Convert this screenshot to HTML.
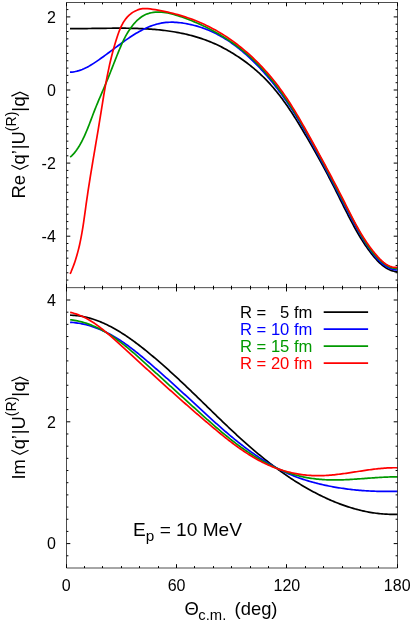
<!DOCTYPE html>
<html><head><meta charset="utf-8"><title>plot</title>
<style>html,body{margin:0;padding:0;background:#fff;}body{width:411px;height:622px;overflow:hidden;position:relative;font-family:"Liberation Sans",sans-serif;}</style></head>
<body>
<svg width="411" height="622" viewBox="0 0 411 622" style="position:absolute;left:0;top:0">
<rect x="0" y="0" width="411" height="622" fill="#fff"/>
<path d="M70.02,28.59 L71.70,28.60 L73.39,28.61 L75.08,28.61 L76.78,28.61 L78.47,28.60 L80.18,28.60 L81.88,28.58 L83.59,28.57 L85.30,28.55 L87.01,28.53 L88.72,28.51 L90.44,28.49 L92.16,28.47 L93.88,28.44 L95.61,28.42 L97.33,28.39 L99.06,28.37 L100.79,28.35 L102.52,28.32 L104.25,28.30 L105.99,28.28 L107.72,28.26 L109.46,28.24 L111.20,28.23 L112.93,28.21 L114.67,28.20 L116.41,28.20 L118.15,28.19 L119.89,28.19 L121.64,28.20 L123.38,28.21 L125.12,28.22 L126.86,28.24 L128.60,28.26 L130.34,28.29 L132.08,28.33 L133.82,28.37 L135.56,28.41 L137.30,28.47 L139.04,28.53 L140.77,28.60 L142.51,28.68 L144.24,28.76 L145.98,28.86 L147.71,28.96 L149.44,29.07 L151.17,29.19 L152.90,29.32 L154.62,29.46 L156.35,29.61 L158.07,29.77 L159.79,29.94 L161.50,30.13 L163.22,30.32 L164.93,30.53 L166.64,30.74 L168.34,30.97 L170.05,31.22 L171.75,31.47 L173.45,31.74 L175.14,32.02 L176.83,32.32 L178.52,32.63 L180.20,32.96 L181.88,33.30 L183.56,33.65 L185.23,34.02 L186.90,34.41 L188.56,34.81 L190.22,35.23 L191.88,35.67 L193.53,36.12 L195.17,36.59 L196.81,37.07 L198.45,37.58 L200.08,38.10 L201.71,38.64 L203.33,39.20 L204.94,39.77 L206.55,40.37 L208.15,40.98 L209.75,41.61 L211.33,42.26 L212.92,42.93 L214.49,43.62 L216.06,44.33 L217.62,45.06 L219.18,45.81 L220.72,46.58 L222.26,47.37 L223.79,48.17 L225.32,48.99 L226.83,49.83 L228.34,50.68 L229.84,51.55 L231.33,52.43 L232.81,53.32 L234.28,54.23 L235.74,55.16 L237.19,56.10 L238.64,57.05 L240.07,58.02 L241.49,59.00 L242.91,59.99 L244.31,61.00 L245.70,62.02 L247.09,63.05 L248.46,64.10 L249.82,65.16 L251.17,66.24 L252.51,67.33 L253.83,68.43 L255.15,69.54 L256.45,70.67 L257.74,71.81 L259.02,72.97 L260.29,74.13 L261.55,75.31 L262.79,76.51 L264.02,77.71 L265.23,78.93 L266.44,80.16 L267.63,81.41 L268.80,82.66 L269.97,83.93 L271.12,85.21 L272.25,86.50 L273.38,87.80 L274.49,89.12 L275.59,90.44 L276.68,91.78 L277.76,93.12 L278.83,94.48 L279.89,95.84 L280.93,97.21 L281.97,98.59 L283.00,99.98 L284.01,101.38 L285.02,102.78 L286.02,104.19 L287.01,105.61 L287.99,107.04 L288.97,108.47 L289.93,109.91 L290.89,111.35 L291.84,112.80 L292.79,114.25 L293.72,115.71 L294.65,117.18 L295.58,118.64 L296.50,120.11 L297.41,121.59 L298.32,123.06 L299.22,124.54 L300.12,126.02 L301.02,127.51 L301.91,128.99 L302.79,130.48 L303.67,131.97 L304.55,133.46 L305.43,134.95 L306.30,136.44 L307.17,137.93 L308.04,139.42 L308.90,140.91 L309.77,142.40 L310.62,143.89 L311.48,145.38 L312.33,146.88 L313.18,148.37 L314.03,149.87 L314.88,151.36 L315.72,152.86 L316.56,154.36 L317.40,155.86 L318.23,157.35 L319.06,158.86 L319.89,160.36 L320.71,161.86 L321.54,163.37 L322.36,164.87 L323.17,166.38 L323.99,167.89 L324.80,169.40 L325.61,170.92 L326.42,172.43 L327.22,173.95 L328.02,175.47 L328.82,176.99 L329.62,178.51 L330.41,180.04 L331.20,181.56 L331.99,183.09 L332.77,184.62 L333.56,186.16 L334.33,187.69 L335.11,189.23 L335.89,190.77 L336.66,192.32 L337.43,193.86 L338.20,195.41 L338.97,196.96 L339.74,198.51 L340.50,200.06 L341.27,201.61 L342.04,203.16 L342.81,204.71 L343.58,206.26 L344.35,207.81 L345.13,209.36 L345.91,210.91 L346.69,212.45 L347.47,213.99 L348.26,215.54 L349.05,217.07 L349.85,218.61 L350.65,220.14 L351.45,221.67 L352.27,223.20 L353.08,224.72 L353.91,226.24 L354.74,227.75 L355.58,229.26 L356.43,230.76 L357.28,232.26 L358.14,233.75 L359.01,235.24 L359.90,236.72 L360.79,238.19 L361.69,239.66 L362.61,241.12 L363.55,242.57 L364.49,244.02 L365.45,245.45 L366.43,246.88 L367.43,248.30 L368.45,249.71 L369.48,251.11 L370.53,252.50 L371.61,253.89 L372.71,255.26 L373.83,256.62 L374.97,257.96 L376.14,259.28 L377.34,260.57 L378.56,261.82 L379.82,263.03 L381.10,264.19 L382.41,265.29 L383.76,266.33 L385.13,267.29 L386.54,268.19 L387.99,269.00 L389.47,269.72 L390.99,270.35 L392.55,270.88 L394.14,271.29 L395.78,271.60 L397.46,271.78" fill="none" stroke="#000000" stroke-width="1.7" stroke-linejoin="round"/>
<path d="M70.01,72.20 L71.83,72.07 L73.63,71.84 L75.39,71.52 L77.13,71.12 L78.84,70.64 L80.52,70.08 L82.18,69.46 L83.82,68.77 L85.43,68.02 L87.03,67.22 L88.60,66.38 L90.16,65.49 L91.70,64.57 L93.22,63.61 L94.73,62.64 L96.23,61.64 L97.72,60.62 L99.19,59.60 L100.66,58.57 L102.12,57.53 L103.57,56.48 L105.01,55.43 L106.45,54.37 L107.89,53.30 L109.33,52.24 L110.76,51.16 L112.20,50.09 L113.64,49.01 L115.08,47.94 L116.53,46.86 L117.98,45.78 L119.44,44.71 L120.90,43.63 L122.38,42.56 L123.86,41.49 L125.36,40.43 L126.87,39.38 L128.39,38.33 L129.91,37.30 L131.45,36.28 L133.00,35.28 L134.56,34.30 L136.13,33.34 L137.71,32.41 L139.30,31.50 L140.90,30.63 L142.51,29.78 L144.13,28.97 L145.76,28.20 L147.40,27.46 L149.05,26.76 L150.71,26.11 L152.38,25.51 L154.06,24.95 L155.74,24.44 L157.44,23.98 L159.14,23.56 L160.86,23.21 L162.58,22.90 L164.31,22.65 L166.05,22.46 L167.80,22.32 L169.56,22.23 L171.32,22.20 L173.09,22.22 L174.86,22.28 L176.63,22.39 L178.41,22.54 L180.19,22.73 L181.97,22.96 L183.75,23.22 L185.53,23.52 L187.31,23.85 L189.08,24.22 L190.85,24.61 L192.62,25.02 L194.38,25.47 L196.14,25.94 L197.88,26.44 L199.62,26.97 L201.35,27.53 L203.07,28.11 L204.78,28.73 L206.47,29.37 L208.15,30.04 L209.82,30.74 L211.48,31.47 L213.12,32.22 L214.75,33.01 L216.36,33.81 L217.96,34.65 L219.55,35.51 L221.12,36.39 L222.68,37.30 L224.23,38.23 L225.77,39.18 L227.29,40.16 L228.80,41.15 L230.29,42.17 L231.78,43.20 L233.25,44.25 L234.70,45.33 L236.15,46.41 L237.58,47.52 L239.00,48.64 L240.41,49.78 L241.80,50.93 L243.19,52.10 L244.56,53.27 L245.92,54.47 L247.27,55.67 L248.60,56.88 L249.93,58.11 L251.24,59.34 L252.54,60.59 L253.83,61.85 L255.11,63.11 L256.38,64.38 L257.63,65.67 L258.88,66.96 L260.11,68.26 L261.34,69.57 L262.55,70.89 L263.75,72.22 L264.95,73.56 L266.13,74.90 L267.30,76.25 L268.46,77.61 L269.62,78.98 L270.76,80.36 L271.90,81.75 L273.02,83.14 L274.14,84.54 L275.24,85.94 L276.34,87.36 L277.43,88.78 L278.51,90.21 L279.58,91.64 L280.64,93.08 L281.70,94.53 L282.74,95.99 L283.78,97.45 L284.81,98.91 L285.83,100.39 L286.85,101.86 L287.85,103.35 L288.85,104.84 L289.84,106.33 L290.83,107.83 L291.81,109.34 L292.78,110.85 L293.74,112.36 L294.70,113.88 L295.65,115.41 L296.59,116.94 L297.53,118.47 L298.47,120.01 L299.40,121.55 L300.32,123.10 L301.24,124.65 L302.15,126.20 L303.06,127.76 L303.96,129.32 L304.86,130.88 L305.76,132.45 L306.65,134.01 L307.54,135.59 L308.42,137.16 L309.31,138.74 L310.19,140.32 L311.06,141.90 L311.94,143.49 L312.81,145.07 L313.68,146.66 L314.55,148.25 L315.42,149.84 L316.29,151.44 L317.15,153.03 L318.02,154.63 L318.88,156.23 L319.74,157.82 L320.60,159.42 L321.46,161.02 L322.32,162.62 L323.17,164.22 L324.02,165.83 L324.87,167.43 L325.72,169.03 L326.57,170.63 L327.41,172.23 L328.26,173.83 L329.10,175.43 L329.93,177.03 L330.77,178.63 L331.60,180.23 L332.42,181.82 L333.25,183.42 L334.07,185.01 L334.89,186.61 L335.71,188.20 L336.53,189.79 L337.34,191.38 L338.15,192.97 L338.97,194.56 L339.78,196.15 L340.59,197.74 L341.40,199.32 L342.22,200.91 L343.03,202.49 L343.84,204.07 L344.66,205.66 L345.48,207.24 L346.30,208.82 L347.12,210.40 L347.94,211.98 L348.77,213.56 L349.59,215.14 L350.43,216.71 L351.26,218.29 L352.10,219.86 L352.95,221.44 L353.80,223.01 L354.65,224.59 L355.51,226.16 L356.37,227.73 L357.24,229.31 L358.12,230.88 L359.01,232.45 L359.90,234.01 L360.81,235.57 L361.73,237.13 L362.66,238.68 L363.60,240.23 L364.57,241.77 L365.55,243.31 L366.54,244.84 L367.56,246.36 L368.59,247.87 L369.65,249.37 L370.73,250.86 L371.83,252.34 L372.96,253.81 L374.12,255.26 L375.30,256.68 L376.52,258.08 L377.76,259.43 L379.04,260.74 L380.35,261.99 L381.70,263.18 L383.08,264.30 L384.51,265.35 L385.97,266.32 L387.48,267.19 L389.03,267.97 L390.62,268.64 L392.26,269.20 L393.95,269.62 L395.69,269.90 L397.48,270.02" fill="none" stroke="#0000ff" stroke-width="1.7" stroke-linejoin="round"/>
<path d="M70.13,157.11 L71.63,155.81 L73.06,154.39 L74.42,152.87 L75.72,151.25 L76.95,149.56 L78.13,147.81 L79.25,146.00 L80.32,144.14 L81.35,142.26 L82.33,140.35 L83.27,138.44 L84.17,136.53 L85.04,134.61 L85.89,132.68 L86.70,130.76 L87.49,128.83 L88.27,126.89 L89.03,124.96 L89.77,123.02 L90.51,121.08 L91.24,119.14 L91.98,117.19 L92.71,115.25 L93.45,113.31 L94.20,111.36 L94.96,109.42 L95.73,107.47 L96.52,105.52 L97.32,103.58 L98.13,101.63 L98.94,99.69 L99.77,97.75 L100.60,95.80 L101.43,93.86 L102.26,91.91 L103.09,89.97 L103.92,88.03 L104.75,86.08 L105.57,84.14 L106.38,82.20 L107.19,80.26 L107.99,78.31 L108.77,76.37 L109.55,74.43 L110.32,72.49 L111.09,70.55 L111.85,68.61 L112.61,66.67 L113.37,64.74 L114.13,62.80 L114.89,60.86 L115.65,58.93 L116.42,56.99 L117.19,55.06 L117.97,53.12 L118.75,51.19 L119.55,49.26 L120.36,47.33 L121.19,45.41 L122.04,43.49 L122.91,41.58 L123.82,39.68 L124.76,37.80 L125.75,35.93 L126.77,34.08 L127.85,32.26 L128.99,30.45 L130.18,28.67 L131.44,26.92 L132.76,25.22 L134.14,23.56 L135.59,21.98 L137.10,20.47 L138.67,19.05 L140.30,17.74 L142.00,16.55 L143.75,15.49 L145.57,14.58 L147.45,13.82 L149.37,13.20 L151.34,12.73 L153.35,12.38 L155.38,12.16 L157.43,12.05 L159.49,12.06 L161.56,12.16 L163.62,12.36 L165.68,12.64 L167.73,13.00 L169.77,13.43 L171.81,13.92 L173.85,14.47 L175.87,15.07 L177.90,15.70 L179.91,16.37 L181.92,17.06 L183.92,17.77 L185.91,18.50 L187.89,19.25 L189.87,20.02 L191.83,20.81 L193.79,21.61 L195.74,22.44 L197.68,23.28 L199.62,24.14 L201.54,25.02 L203.45,25.92 L205.35,26.84 L207.24,27.77 L209.12,28.73 L210.99,29.70 L212.85,30.69 L214.70,31.70 L216.53,32.73 L218.36,33.78 L220.17,34.84 L221.97,35.92 L223.75,37.03 L225.53,38.15 L227.29,39.28 L229.03,40.44 L230.77,41.61 L232.49,42.81 L234.19,44.02 L235.88,45.25 L237.56,46.49 L239.22,47.76 L240.87,49.04 L242.50,50.34 L244.11,51.66 L245.71,53.00 L247.30,54.35 L248.86,55.73 L250.41,57.12 L251.95,58.53 L253.46,59.95 L254.96,61.39 L256.45,62.85 L257.92,64.33 L259.37,65.82 L260.81,67.33 L262.23,68.85 L263.64,70.39 L265.04,71.94 L266.42,73.50 L267.78,75.08 L269.14,76.68 L270.48,78.28 L271.80,79.90 L273.11,81.53 L274.41,83.17 L275.70,84.82 L276.98,86.49 L278.24,88.17 L279.49,89.85 L280.73,91.55 L281.96,93.25 L283.18,94.97 L284.39,96.69 L285.58,98.42 L286.77,100.17 L287.95,101.91 L289.12,103.67 L290.27,105.43 L291.42,107.20 L292.56,108.98 L293.69,110.76 L294.81,112.55 L295.93,114.34 L297.03,116.14 L298.13,117.95 L299.22,119.75 L300.31,121.56 L301.38,123.38 L302.45,125.20 L303.52,127.02 L304.57,128.84 L305.62,130.66 L306.67,132.49 L307.71,134.32 L308.74,136.15 L309.77,137.98 L310.80,139.81 L311.82,141.64 L312.83,143.47 L313.85,145.30 L314.85,147.13 L315.86,148.97 L316.86,150.80 L317.85,152.64 L318.85,154.48 L319.83,156.32 L320.82,158.15 L321.80,160.00 L322.78,161.84 L323.76,163.68 L324.74,165.52 L325.71,167.37 L326.68,169.21 L327.65,171.06 L328.62,172.91 L329.59,174.76 L330.55,176.61 L331.52,178.46 L332.48,180.31 L333.44,182.17 L334.40,184.03 L335.36,185.88 L336.32,187.74 L337.29,189.60 L338.25,191.46 L339.21,193.32 L340.17,195.18 L341.13,197.04 L342.09,198.90 L343.06,200.77 L344.02,202.63 L344.99,204.49 L345.96,206.35 L346.93,208.22 L347.90,210.08 L348.87,211.94 L349.85,213.80 L350.83,215.67 L351.81,217.53 L352.79,219.39 L353.78,221.25 L354.77,223.11 L355.76,224.97 L356.76,226.83 L357.76,228.68 L358.76,230.53 L359.78,232.38 L360.81,234.22 L361.86,236.05 L362.92,237.86 L364.00,239.66 L365.10,241.45 L366.23,243.22 L367.38,244.97 L368.56,246.70 L369.78,248.40 L371.02,250.08 L372.31,251.73 L373.63,253.35 L374.99,254.94 L376.39,256.50 L377.84,258.02 L379.34,259.50 L380.89,260.95 L382.49,262.34 L384.15,263.65 L385.86,264.87 L387.64,265.95 L389.48,266.88 L391.38,267.64 L393.34,268.19 L395.38,268.52 L397.49,268.60" fill="none" stroke="#009900" stroke-width="1.7" stroke-linejoin="round"/>
<path d="M70.12,273.91 L71.17,271.54 L72.16,269.15 L73.10,266.75 L73.99,264.34 L74.84,261.92 L75.64,259.49 L76.39,257.04 L77.11,254.59 L77.78,252.13 L78.42,249.66 L79.03,247.18 L79.60,244.69 L80.14,242.19 L80.66,239.69 L81.14,237.18 L81.61,234.67 L82.05,232.15 L82.48,229.62 L82.89,227.09 L83.28,224.56 L83.66,222.02 L84.03,219.48 L84.39,216.94 L84.75,214.39 L85.10,211.84 L85.45,209.30 L85.80,206.75 L86.15,204.20 L86.51,201.65 L86.88,199.10 L87.25,196.55 L87.62,194.01 L88.00,191.46 L88.39,188.92 L88.78,186.37 L89.18,183.83 L89.58,181.28 L89.99,178.74 L90.40,176.20 L90.81,173.66 L91.22,171.11 L91.64,168.57 L92.06,166.04 L92.49,163.50 L92.91,160.96 L93.34,158.42 L93.77,155.88 L94.19,153.35 L94.62,150.81 L95.05,148.28 L95.48,145.74 L95.91,143.21 L96.34,140.68 L96.77,138.15 L97.19,135.62 L97.62,133.09 L98.04,130.56 L98.46,128.03 L98.88,125.50 L99.30,122.97 L99.71,120.44 L100.12,117.92 L100.52,115.39 L100.93,112.87 L101.33,110.35 L101.73,107.82 L102.14,105.30 L102.54,102.78 L102.95,100.26 L103.37,97.74 L103.78,95.22 L104.21,92.70 L104.64,90.18 L105.08,87.67 L105.52,85.15 L105.98,82.63 L106.45,80.12 L106.93,77.61 L107.42,75.09 L107.93,72.58 L108.45,70.07 L108.98,67.56 L109.53,65.05 L110.10,62.54 L110.69,60.03 L111.30,57.52 L111.93,55.01 L112.58,52.51 L113.25,50.00 L113.95,47.50 L114.67,44.99 L115.41,42.49 L116.19,39.99 L116.99,37.49 L117.81,34.99 L118.69,32.50 L119.62,30.05 L120.63,27.65 L121.73,25.30 L122.94,23.05 L124.29,20.88 L125.77,18.84 L127.40,16.92 L129.18,15.15 L131.09,13.55 L133.13,12.13 L135.31,10.91 L137.61,9.91 L140.00,9.16 L142.48,8.68 L145.00,8.52 L147.57,8.65 L150.14,8.96 L152.71,9.32 L155.26,9.71 L157.81,10.14 L160.35,10.59 L162.88,11.07 L165.40,11.59 L167.91,12.14 L170.41,12.72 L172.90,13.33 L175.38,13.98 L177.85,14.66 L180.30,15.37 L182.74,16.11 L185.17,16.89 L187.59,17.70 L190.00,18.54 L192.39,19.42 L194.77,20.33 L197.13,21.28 L199.48,22.26 L201.82,23.27 L204.14,24.32 L206.45,25.41 L208.74,26.53 L211.02,27.69 L213.28,28.88 L215.52,30.11 L217.75,31.37 L219.96,32.67 L222.15,34.01 L224.33,35.38 L226.49,36.78 L228.63,38.21 L230.75,39.68 L232.85,41.18 L234.94,42.71 L237.00,44.27 L239.05,45.85 L241.08,47.47 L243.08,49.11 L245.07,50.79 L247.04,52.48 L248.98,54.20 L250.90,55.95 L252.81,57.72 L254.69,59.51 L256.54,61.33 L258.38,63.16 L260.19,65.02 L261.98,66.90 L263.75,68.80 L265.49,70.71 L267.21,72.64 L268.91,74.59 L270.58,76.56 L272.22,78.54 L273.84,80.54 L275.44,82.55 L277.01,84.57 L278.55,86.61 L280.07,88.66 L281.56,90.72 L283.03,92.79 L284.48,94.88 L285.91,96.97 L287.32,99.07 L288.71,101.19 L290.08,103.32 L291.43,105.45 L292.77,107.60 L294.10,109.75 L295.41,111.91 L296.71,114.08 L298.00,116.26 L299.28,118.45 L300.56,120.65 L301.82,122.85 L303.08,125.06 L304.33,127.28 L305.58,129.51 L306.83,131.74 L308.07,133.97 L309.31,136.22 L310.55,138.46 L311.80,140.72 L313.04,142.98 L314.29,145.24 L315.53,147.51 L316.78,149.78 L318.02,152.05 L319.27,154.33 L320.51,156.61 L321.75,158.90 L322.99,161.18 L324.23,163.47 L325.47,165.77 L326.70,168.06 L327.93,170.35 L329.16,172.65 L330.38,174.95 L331.60,177.24 L332.81,179.54 L334.02,181.84 L335.23,184.14 L336.43,186.44 L337.62,188.73 L338.81,191.03 L339.99,193.32 L341.16,195.61 L342.33,197.90 L343.49,200.19 L344.65,202.47 L345.79,204.76 L346.93,207.04 L348.07,209.31 L349.21,211.58 L350.36,213.84 L351.51,216.10 L352.67,218.35 L353.84,220.59 L355.02,222.82 L356.22,225.05 L357.43,227.26 L358.67,229.47 L359.94,231.66 L361.23,233.84 L362.55,236.01 L363.90,238.16 L365.28,240.30 L366.70,242.43 L368.16,244.54 L369.67,246.64 L371.22,248.71 L372.81,250.78 L374.45,252.82 L376.15,254.84 L377.90,256.85 L379.72,258.81 L381.60,260.68 L383.56,262.41 L385.61,263.96 L387.76,265.28 L390.02,266.32 L392.39,267.04 L394.88,267.38 L397.51,267.30" fill="none" stroke="#ff0000" stroke-width="1.7" stroke-linejoin="round"/>
<path d="M70.08,315.19 L71.65,315.25 L73.21,315.33 L74.76,315.44 L76.30,315.59 L77.83,315.76 L79.35,315.97 L80.86,316.20 L82.36,316.46 L83.85,316.75 L85.34,317.06 L86.81,317.40 L88.27,317.77 L89.73,318.16 L91.18,318.58 L92.62,319.02 L94.05,319.48 L95.47,319.96 L96.88,320.47 L98.29,321.00 L99.69,321.55 L101.08,322.12 L102.46,322.70 L103.83,323.31 L105.20,323.93 L106.56,324.57 L107.91,325.23 L109.26,325.90 L110.59,326.59 L111.93,327.30 L113.25,328.02 L114.57,328.75 L115.88,329.49 L117.18,330.25 L118.48,331.03 L119.77,331.81 L121.06,332.61 L122.34,333.41 L123.61,334.23 L124.88,335.06 L126.15,335.90 L127.40,336.75 L128.66,337.61 L129.90,338.48 L131.15,339.36 L132.38,340.24 L133.61,341.14 L134.84,342.04 L136.06,342.95 L137.28,343.87 L138.50,344.79 L139.70,345.72 L140.91,346.65 L142.11,347.59 L143.31,348.54 L144.50,349.49 L145.69,350.45 L146.88,351.40 L148.06,352.37 L149.24,353.33 L150.41,354.30 L151.58,355.28 L152.75,356.25 L153.92,357.23 L155.08,358.22 L156.24,359.20 L157.40,360.19 L158.55,361.18 L159.70,362.18 L160.85,363.18 L162.00,364.18 L163.14,365.18 L164.28,366.19 L165.41,367.20 L166.55,368.21 L167.68,369.22 L168.81,370.24 L169.94,371.26 L171.06,372.28 L172.18,373.31 L173.30,374.33 L174.42,375.36 L175.54,376.39 L176.65,377.42 L177.77,378.45 L178.88,379.49 L179.98,380.53 L181.09,381.56 L182.20,382.60 L183.30,383.65 L184.40,384.69 L185.50,385.73 L186.60,386.78 L187.70,387.83 L188.79,388.87 L189.89,389.92 L190.98,390.97 L192.07,392.02 L193.17,393.08 L194.26,394.13 L195.34,395.18 L196.43,396.23 L197.52,397.29 L198.61,398.34 L199.69,399.40 L200.78,400.45 L201.86,401.51 L202.95,402.57 L204.03,403.62 L205.11,404.68 L206.20,405.73 L207.28,406.79 L208.36,407.85 L209.45,408.90 L210.53,409.96 L211.61,411.01 L212.70,412.07 L213.78,413.12 L214.86,414.17 L215.95,415.23 L217.03,416.28 L218.12,417.33 L219.21,418.38 L220.30,419.43 L221.38,420.48 L222.47,421.53 L223.56,422.57 L224.66,423.62 L225.75,424.66 L226.85,425.70 L227.94,426.74 L229.04,427.78 L230.14,428.82 L231.24,429.86 L232.34,430.89 L233.45,431.92 L234.55,432.95 L235.66,433.98 L236.77,435.01 L237.89,436.03 L239.00,437.05 L240.12,438.07 L241.24,439.09 L242.37,440.11 L243.49,441.12 L244.62,442.13 L245.75,443.14 L246.88,444.14 L248.02,445.15 L249.16,446.15 L250.31,447.14 L251.45,448.14 L252.60,449.13 L253.75,450.11 L254.91,451.10 L256.07,452.08 L257.24,453.06 L258.40,454.03 L259.58,455.00 L260.75,455.97 L261.93,456.93 L263.11,457.89 L264.30,458.85 L265.49,459.80 L266.69,460.75 L267.88,461.69 L269.09,462.63 L270.29,463.57 L271.50,464.50 L272.71,465.42 L273.93,466.34 L275.15,467.26 L276.38,468.17 L277.61,469.08 L278.84,469.98 L280.08,470.87 L281.32,471.76 L282.56,472.65 L283.81,473.53 L285.06,474.40 L286.31,475.26 L287.57,476.13 L288.84,476.98 L290.10,477.83 L291.37,478.67 L292.65,479.51 L293.93,480.34 L295.21,481.16 L296.49,481.97 L297.78,482.78 L299.08,483.59 L300.37,484.38 L301.68,485.17 L302.98,485.95 L304.29,486.72 L305.60,487.49 L306.92,488.24 L308.24,488.99 L309.56,489.74 L310.89,490.47 L312.22,491.20 L313.56,491.91 L314.90,492.62 L316.24,493.32 L317.59,494.02 L318.94,494.70 L320.29,495.37 L321.65,496.04 L323.01,496.70 L324.38,497.35 L325.75,497.99 L327.12,498.61 L328.50,499.24 L329.88,499.85 L331.26,500.45 L332.65,501.04 L334.04,501.62 L335.44,502.19 L336.84,502.75 L338.24,503.30 L339.65,503.84 L341.06,504.37 L342.48,504.89 L343.90,505.40 L345.32,505.89 L346.75,506.37 L348.18,506.84 L349.61,507.30 L351.05,507.75 L352.49,508.18 L353.94,508.60 L355.39,509.01 L356.84,509.41 L358.30,509.79 L359.76,510.15 L361.23,510.51 L362.69,510.85 L364.17,511.17 L365.64,511.48 L367.12,511.78 L368.61,512.06 L370.10,512.33 L371.59,512.58 L373.08,512.81 L374.58,513.03 L376.08,513.23 L377.59,513.42 L379.10,513.59 L380.62,513.75 L382.13,513.88 L383.66,514.00 L385.18,514.11 L386.71,514.19 L388.25,514.26 L389.78,514.31 L391.32,514.34 L392.87,514.36 L394.42,514.35 L395.97,514.33 L397.53,514.29" fill="none" stroke="#000000" stroke-width="1.7" stroke-linejoin="round"/>
<path d="M70.09,322.29 L71.59,322.39 L73.09,322.52 L74.57,322.67 L76.05,322.85 L77.53,323.05 L78.99,323.28 L80.45,323.53 L81.90,323.81 L83.34,324.11 L84.78,324.44 L86.20,324.79 L87.62,325.16 L89.03,325.55 L90.44,325.97 L91.83,326.40 L93.22,326.86 L94.60,327.34 L95.97,327.84 L97.34,328.36 L98.69,328.89 L100.04,329.45 L101.38,330.02 L102.71,330.61 L104.04,331.22 L105.35,331.85 L106.66,332.49 L107.96,333.15 L109.25,333.82 L110.54,334.51 L111.81,335.21 L113.08,335.93 L114.34,336.67 L115.60,337.41 L116.84,338.17 L118.08,338.94 L119.32,339.73 L120.54,340.53 L121.76,341.34 L122.98,342.16 L124.19,342.99 L125.39,343.84 L126.58,344.69 L127.78,345.56 L128.96,346.43 L130.14,347.31 L131.32,348.20 L132.49,349.10 L133.66,350.01 L134.82,350.92 L135.98,351.84 L137.14,352.77 L138.29,353.70 L139.43,354.64 L140.58,355.58 L141.72,356.52 L142.86,357.47 L143.99,358.42 L145.12,359.38 L146.25,360.33 L147.38,361.29 L148.51,362.25 L149.63,363.21 L150.75,364.17 L151.87,365.14 L152.99,366.10 L154.10,367.07 L155.21,368.03 L156.32,369.00 L157.43,369.97 L158.54,370.94 L159.65,371.91 L160.75,372.88 L161.85,373.85 L162.95,374.83 L164.05,375.80 L165.15,376.78 L166.24,377.76 L167.34,378.74 L168.43,379.72 L169.53,380.70 L170.62,381.68 L171.71,382.66 L172.79,383.64 L173.88,384.62 L174.97,385.61 L176.05,386.59 L177.14,387.58 L178.22,388.57 L179.31,389.55 L180.39,390.54 L181.47,391.53 L182.55,392.52 L183.63,393.51 L184.71,394.50 L185.79,395.49 L186.87,396.48 L187.95,397.47 L189.02,398.46 L190.10,399.45 L191.18,400.45 L192.26,401.44 L193.33,402.43 L194.41,403.43 L195.49,404.42 L196.56,405.42 L197.64,406.41 L198.72,407.41 L199.79,408.40 L200.87,409.40 L201.95,410.39 L203.03,411.39 L204.11,412.38 L205.19,413.38 L206.27,414.37 L207.35,415.36 L208.43,416.36 L209.51,417.35 L210.60,418.34 L211.68,419.32 L212.77,420.31 L213.86,421.30 L214.95,422.28 L216.04,423.26 L217.14,424.24 L218.23,425.22 L219.33,426.19 L220.43,427.17 L221.53,428.14 L222.64,429.10 L223.75,430.07 L224.86,431.03 L225.97,431.99 L227.08,432.95 L228.20,433.90 L229.32,434.85 L230.45,435.80 L231.57,436.74 L232.70,437.68 L233.84,438.61 L234.97,439.54 L236.11,440.47 L237.26,441.39 L238.41,442.31 L239.56,443.22 L240.71,444.13 L241.87,445.03 L243.04,445.93 L244.20,446.83 L245.38,447.71 L246.55,448.60 L247.74,449.47 L248.92,450.35 L250.11,451.21 L251.31,452.07 L252.51,452.93 L253.72,453.77 L254.93,454.62 L256.14,455.45 L257.36,456.28 L258.59,457.10 L259.82,457.92 L261.06,458.73 L262.30,459.53 L263.55,460.32 L264.81,461.10 L266.07,461.88 L267.33,462.65 L268.60,463.41 L269.87,464.16 L271.15,464.90 L272.44,465.63 L273.73,466.36 L275.02,467.07 L276.32,467.77 L277.62,468.46 L278.93,469.15 L280.24,469.82 L281.56,470.48 L282.88,471.12 L284.21,471.76 L285.54,472.38 L286.87,473.00 L288.21,473.60 L289.55,474.18 L290.90,474.76 L292.25,475.32 L293.61,475.87 L294.97,476.40 L296.33,476.92 L297.70,477.43 L299.07,477.93 L300.45,478.42 L301.82,478.89 L303.21,479.35 L304.59,479.80 L305.98,480.24 L307.38,480.67 L308.77,481.09 L310.17,481.50 L311.58,481.90 L312.98,482.29 L314.39,482.66 L315.81,483.03 L317.22,483.39 L318.64,483.74 L320.06,484.08 L321.49,484.42 L322.92,484.74 L324.35,485.06 L325.78,485.37 L327.22,485.67 L328.66,485.96 L330.10,486.25 L331.55,486.52 L332.99,486.79 L334.44,487.05 L335.89,487.31 L337.35,487.56 L338.80,487.79 L340.26,488.03 L341.72,488.25 L343.18,488.46 L344.64,488.67 L346.10,488.87 L347.57,489.06 L349.04,489.25 L350.50,489.42 L351.97,489.59 L353.44,489.75 L354.91,489.90 L356.38,490.05 L357.86,490.18 L359.33,490.31 L360.80,490.43 L362.27,490.55 L363.75,490.65 L365.22,490.75 L366.70,490.84 L368.17,490.93 L369.64,491.00 L371.12,491.07 L372.59,491.14 L374.06,491.19 L375.54,491.24 L377.01,491.29 L378.48,491.33 L379.95,491.36 L381.42,491.38 L382.89,491.40 L384.36,491.42 L385.82,491.42 L387.29,491.43 L388.75,491.42 L390.21,491.41 L391.67,491.40 L393.13,491.38 L394.59,491.36 L396.04,491.33 L397.50,491.30" fill="none" stroke="#0000ff" stroke-width="1.7" stroke-linejoin="round"/>
<path d="M70.11,319.76 L71.60,319.94 L73.08,320.15 L74.56,320.38 L76.02,320.64 L77.47,320.93 L78.91,321.24 L80.33,321.58 L81.75,321.94 L83.16,322.33 L84.56,322.74 L85.94,323.17 L87.32,323.63 L88.69,324.10 L90.04,324.61 L91.39,325.13 L92.73,325.67 L94.06,326.23 L95.38,326.82 L96.69,327.42 L98.00,328.04 L99.29,328.68 L100.58,329.34 L101.86,330.02 L103.13,330.71 L104.39,331.42 L105.65,332.15 L106.90,332.89 L108.14,333.65 L109.37,334.42 L110.60,335.20 L111.82,336.00 L113.04,336.82 L114.24,337.64 L115.44,338.48 L116.64,339.33 L117.83,340.20 L119.01,341.07 L120.19,341.95 L121.36,342.85 L122.53,343.75 L123.69,344.66 L124.85,345.59 L126.00,346.52 L127.15,347.45 L128.30,348.40 L129.44,349.35 L130.57,350.30 L131.70,351.27 L132.83,352.24 L133.96,353.21 L135.08,354.19 L136.19,355.17 L137.31,356.15 L138.42,357.14 L139.53,358.13 L140.64,359.12 L141.74,360.12 L142.84,361.11 L143.94,362.11 L145.04,363.10 L146.14,364.10 L147.23,365.09 L148.33,366.08 L149.42,367.08 L150.51,368.07 L151.60,369.06 L152.69,370.05 L153.78,371.03 L154.86,372.02 L155.95,373.01 L157.03,373.99 L158.11,374.98 L159.20,375.96 L160.28,376.94 L161.36,377.93 L162.44,378.91 L163.52,379.89 L164.60,380.87 L165.67,381.85 L166.75,382.83 L167.83,383.81 L168.91,384.79 L169.98,385.76 L171.06,386.74 L172.13,387.72 L173.21,388.70 L174.28,389.67 L175.36,390.65 L176.43,391.62 L177.51,392.60 L178.58,393.58 L179.66,394.55 L180.73,395.53 L181.81,396.50 L182.89,397.48 L183.96,398.46 L185.04,399.43 L186.11,400.41 L187.19,401.39 L188.27,402.36 L189.35,403.34 L190.43,404.32 L191.51,405.29 L192.59,406.27 L193.67,407.25 L194.75,408.23 L195.83,409.21 L196.92,410.19 L198.00,411.17 L199.09,412.15 L200.17,413.13 L201.26,414.11 L202.35,415.09 L203.44,416.07 L204.53,417.05 L205.63,418.03 L206.72,419.01 L207.82,419.99 L208.92,420.97 L210.02,421.94 L211.13,422.91 L212.23,423.89 L213.34,424.86 L214.45,425.83 L215.56,426.79 L216.68,427.75 L217.79,428.71 L218.91,429.67 L220.04,430.63 L221.16,431.58 L222.29,432.53 L223.43,433.47 L224.56,434.41 L225.70,435.35 L226.84,436.28 L227.99,437.21 L229.14,438.13 L230.29,439.05 L231.45,439.97 L232.61,440.87 L233.77,441.78 L234.94,442.68 L236.11,443.57 L237.29,444.46 L238.47,445.34 L239.66,446.21 L240.85,447.08 L242.04,447.94 L243.24,448.79 L244.45,449.64 L245.66,450.48 L246.87,451.31 L248.09,452.14 L249.31,452.96 L250.54,453.77 L251.78,454.57 L253.02,455.36 L254.27,456.15 L255.52,456.93 L256.77,457.69 L258.04,458.45 L259.31,459.20 L260.58,459.94 L261.86,460.67 L263.15,461.39 L264.44,462.10 L265.74,462.80 L267.04,463.49 L268.35,464.17 L269.66,464.83 L270.98,465.49 L272.30,466.13 L273.63,466.76 L274.97,467.38 L276.30,467.99 L277.65,468.58 L279.00,469.16 L280.35,469.72 L281.70,470.28 L283.07,470.82 L284.43,471.34 L285.80,471.85 L287.18,472.35 L288.55,472.83 L289.94,473.29 L291.32,473.74 L292.71,474.18 L294.10,474.59 L295.50,475.00 L296.90,475.38 L298.31,475.75 L299.71,476.10 L301.13,476.44 L302.54,476.75 L303.96,477.05 L305.38,477.34 L306.80,477.61 L308.23,477.86 L309.66,478.09 L311.09,478.31 L312.52,478.52 L313.96,478.71 L315.40,478.89 L316.84,479.05 L318.29,479.19 L319.74,479.33 L321.19,479.45 L322.64,479.55 L324.09,479.65 L325.55,479.73 L327.00,479.79 L328.46,479.85 L329.92,479.89 L331.38,479.92 L332.85,479.94 L334.31,479.95 L335.78,479.95 L337.25,479.94 L338.72,479.91 L340.19,479.88 L341.66,479.84 L343.13,479.79 L344.60,479.74 L346.08,479.67 L347.55,479.61 L349.02,479.53 L350.50,479.45 L351.98,479.36 L353.45,479.27 L354.93,479.17 L356.41,479.08 L357.88,478.97 L359.36,478.87 L360.84,478.76 L362.31,478.65 L363.79,478.55 L365.27,478.44 L366.74,478.33 L368.22,478.22 L369.69,478.11 L371.17,478.00 L372.64,477.90 L374.11,477.79 L375.58,477.69 L377.06,477.60 L378.53,477.51 L379.99,477.42 L381.46,477.34 L382.93,477.26 L384.39,477.19 L385.86,477.12 L387.32,477.07 L388.78,477.02 L390.24,476.97 L391.69,476.94 L393.15,476.92 L394.60,476.90 L396.05,476.90 L397.50,476.90" fill="none" stroke="#009900" stroke-width="1.7" stroke-linejoin="round"/>
<path d="M70.13,312.34 L71.58,312.68 L73.02,313.05 L74.43,313.46 L75.83,313.90 L77.22,314.38 L78.59,314.89 L79.95,315.42 L81.30,315.99 L82.63,316.59 L83.95,317.21 L85.25,317.86 L86.55,318.54 L87.83,319.24 L89.10,319.96 L90.36,320.71 L91.60,321.48 L92.84,322.27 L94.07,323.08 L95.29,323.91 L96.49,324.75 L97.69,325.62 L98.89,326.50 L100.07,327.39 L101.24,328.30 L102.41,329.22 L103.57,330.15 L104.73,331.09 L105.88,332.05 L107.02,333.01 L108.16,333.98 L109.29,334.95 L110.42,335.94 L111.54,336.92 L112.66,337.91 L113.78,338.91 L114.89,339.90 L116.00,340.90 L117.11,341.90 L118.21,342.89 L119.32,343.89 L120.42,344.88 L121.52,345.88 L122.62,346.88 L123.71,347.87 L124.81,348.87 L125.90,349.86 L126.99,350.86 L128.08,351.86 L129.17,352.85 L130.25,353.85 L131.34,354.84 L132.43,355.84 L133.51,356.83 L134.59,357.83 L135.68,358.82 L136.76,359.81 L137.84,360.81 L138.92,361.80 L140.01,362.80 L141.09,363.79 L142.17,364.78 L143.25,365.78 L144.33,366.77 L145.41,367.76 L146.50,368.75 L147.58,369.75 L148.66,370.74 L149.75,371.73 L150.83,372.72 L151.92,373.71 L153.00,374.70 L154.09,375.69 L155.18,376.68 L156.27,377.67 L157.35,378.66 L158.44,379.65 L159.53,380.64 L160.62,381.63 L161.72,382.61 L162.81,383.60 L163.90,384.59 L165.00,385.58 L166.09,386.56 L167.19,387.55 L168.28,388.53 L169.38,389.52 L170.48,390.50 L171.58,391.49 L172.68,392.47 L173.78,393.45 L174.88,394.44 L175.98,395.42 L177.09,396.40 L178.19,397.38 L179.30,398.37 L180.40,399.35 L181.51,400.33 L182.62,401.31 L183.73,402.28 L184.84,403.26 L185.96,404.24 L187.07,405.22 L188.19,406.20 L189.30,407.17 L190.42,408.15 L191.54,409.12 L192.66,410.10 L193.78,411.07 L194.90,412.05 L196.03,413.02 L197.15,413.99 L198.28,414.96 L199.41,415.93 L200.54,416.90 L201.67,417.87 L202.80,418.84 L203.93,419.81 L205.07,420.78 L206.20,421.75 L207.34,422.71 L208.48,423.68 L209.62,424.64 L210.77,425.61 L211.91,426.57 L213.06,427.53 L214.20,428.50 L215.35,429.45 L216.50,430.41 L217.66,431.37 L218.81,432.32 L219.97,433.27 L221.13,434.22 L222.30,435.16 L223.46,436.10 L224.63,437.04 L225.80,437.97 L226.98,438.89 L228.15,439.81 L229.33,440.73 L230.52,441.64 L231.71,442.55 L232.90,443.45 L234.09,444.34 L235.29,445.22 L236.49,446.10 L237.70,446.97 L238.90,447.84 L240.12,448.69 L241.34,449.54 L242.56,450.38 L243.78,451.21 L245.02,452.03 L246.25,452.84 L247.49,453.65 L248.74,454.44 L249.99,455.22 L251.24,455.99 L252.50,456.75 L253.77,457.50 L255.04,458.24 L256.31,458.96 L257.60,459.68 L258.88,460.38 L260.18,461.07 L261.47,461.74 L262.78,462.41 L264.09,463.05 L265.41,463.69 L266.73,464.31 L268.06,464.92 L269.40,465.51 L270.74,466.08 L272.09,466.64 L273.45,467.19 L274.81,467.72 L276.18,468.23 L277.56,468.73 L278.94,469.21 L280.33,469.67 L281.72,470.12 L283.13,470.55 L284.53,470.97 L285.94,471.36 L287.36,471.74 L288.79,472.11 L290.21,472.45 L291.64,472.78 L293.08,473.10 L294.52,473.39 L295.97,473.67 L297.41,473.93 L298.86,474.17 L300.32,474.40 L301.78,474.60 L303.24,474.79 L304.70,474.96 L306.16,475.12 L307.63,475.25 L309.10,475.37 L310.57,475.47 L312.04,475.55 L313.51,475.62 L314.99,475.66 L316.46,475.69 L317.94,475.69 L319.41,475.69 L320.89,475.66 L322.37,475.62 L323.84,475.56 L325.32,475.49 L326.80,475.40 L328.28,475.30 L329.76,475.19 L331.24,475.06 L332.72,474.92 L334.20,474.78 L335.68,474.62 L337.16,474.45 L338.64,474.28 L340.12,474.09 L341.60,473.90 L343.08,473.71 L344.56,473.50 L346.04,473.29 L347.52,473.08 L349.00,472.86 L350.48,472.64 L351.95,472.41 L353.43,472.19 L354.91,471.96 L356.39,471.73 L357.87,471.50 L359.35,471.28 L360.82,471.05 L362.30,470.83 L363.77,470.61 L365.25,470.39 L366.72,470.17 L368.20,469.96 L369.67,469.76 L371.14,469.56 L372.62,469.37 L374.09,469.19 L375.56,469.01 L377.03,468.84 L378.49,468.69 L379.96,468.54 L381.43,468.40 L382.89,468.28 L384.36,468.16 L385.82,468.06 L387.28,467.97 L388.74,467.90 L390.20,467.84 L391.66,467.80 L393.12,467.77 L394.57,467.76 L396.03,467.77 L397.48,467.80" fill="none" stroke="#ff0000" stroke-width="1.7" stroke-linejoin="round"/>
<path d="M66.5,2.5 H397.5 V568.0 H66.5 Z M66.5,287.65 H397.5" fill="none" stroke="#000" stroke-width="0.7"/>
<path d="M66.50,2.5 v3.8 M66.50,283.84999999999997 v7.6 M66.50,568.0 v-3.8 M84.50,2.5 v1.9 M84.50,285.75 v3.8 M84.50,568.0 v-1.9 M102.50,2.5 v1.9 M102.50,285.75 v3.8 M102.50,568.0 v-1.9 M121.50,2.5 v1.9 M121.50,285.75 v3.8 M121.50,568.0 v-1.9 M139.50,2.5 v1.9 M139.50,285.75 v3.8 M139.50,568.0 v-1.9 M158.50,2.5 v1.9 M158.50,285.75 v3.8 M158.50,568.0 v-1.9 M176.50,2.5 v3.8 M176.50,283.84999999999997 v7.6 M176.50,568.0 v-3.8 M194.50,2.5 v1.9 M194.50,285.75 v3.8 M194.50,568.0 v-1.9 M213.50,2.5 v1.9 M213.50,285.75 v3.8 M213.50,568.0 v-1.9 M231.50,2.5 v1.9 M231.50,285.75 v3.8 M231.50,568.0 v-1.9 M250.50,2.5 v1.9 M250.50,285.75 v3.8 M250.50,568.0 v-1.9 M268.50,2.5 v1.9 M268.50,285.75 v3.8 M268.50,568.0 v-1.9 M286.50,2.5 v3.8 M286.50,283.84999999999997 v7.6 M286.50,568.0 v-3.8 M305.50,2.5 v1.9 M305.50,285.75 v3.8 M305.50,568.0 v-1.9 M323.50,2.5 v1.9 M323.50,285.75 v3.8 M323.50,568.0 v-1.9 M342.50,2.5 v1.9 M342.50,285.75 v3.8 M342.50,568.0 v-1.9 M360.50,2.5 v1.9 M360.50,285.75 v3.8 M360.50,568.0 v-1.9 M378.50,2.5 v1.9 M378.50,285.75 v3.8 M378.50,568.0 v-1.9 M397.50,2.5 v3.8 M397.50,283.84999999999997 v7.6 M397.50,568.0 v-3.8 M66.5,280.06 h1.9 M397.5,280.06 h-1.9 M66.5,272.75 h1.9 M397.5,272.75 h-1.9 M66.5,265.44 h1.9 M397.5,265.44 h-1.9 M66.5,258.13 h1.9 M397.5,258.13 h-1.9 M66.5,250.82 h1.9 M397.5,250.82 h-1.9 M66.5,243.51 h1.9 M397.5,243.51 h-1.9 M66.5,236.20 h3.8 M397.5,236.20 h-3.8 M66.5,228.89 h1.9 M397.5,228.89 h-1.9 M66.5,221.58 h1.9 M397.5,221.58 h-1.9 M66.5,214.27 h1.9 M397.5,214.27 h-1.9 M66.5,206.96 h1.9 M397.5,206.96 h-1.9 M66.5,199.65 h1.9 M397.5,199.65 h-1.9 M66.5,192.34 h1.9 M397.5,192.34 h-1.9 M66.5,185.03 h1.9 M397.5,185.03 h-1.9 M66.5,177.72 h1.9 M397.5,177.72 h-1.9 M66.5,170.41 h1.9 M397.5,170.41 h-1.9 M66.5,163.10 h3.8 M397.5,163.10 h-3.8 M66.5,155.79 h1.9 M397.5,155.79 h-1.9 M66.5,148.48 h1.9 M397.5,148.48 h-1.9 M66.5,141.17 h1.9 M397.5,141.17 h-1.9 M66.5,133.86 h1.9 M397.5,133.86 h-1.9 M66.5,126.55 h1.9 M397.5,126.55 h-1.9 M66.5,119.24 h1.9 M397.5,119.24 h-1.9 M66.5,111.93 h1.9 M397.5,111.93 h-1.9 M66.5,104.62 h1.9 M397.5,104.62 h-1.9 M66.5,97.31 h1.9 M397.5,97.31 h-1.9 M66.5,90.00 h3.8 M397.5,90.00 h-3.8 M66.5,82.69 h1.9 M397.5,82.69 h-1.9 M66.5,75.38 h1.9 M397.5,75.38 h-1.9 M66.5,68.07 h1.9 M397.5,68.07 h-1.9 M66.5,60.76 h1.9 M397.5,60.76 h-1.9 M66.5,53.45 h1.9 M397.5,53.45 h-1.9 M66.5,46.14 h1.9 M397.5,46.14 h-1.9 M66.5,38.83 h1.9 M397.5,38.83 h-1.9 M66.5,31.52 h1.9 M397.5,31.52 h-1.9 M66.5,24.21 h1.9 M397.5,24.21 h-1.9 M66.5,16.90 h3.8 M397.5,16.90 h-3.8 M66.5,9.59 h1.9 M397.5,9.59 h-1.9 M66.5,555.78 h1.9 M397.5,555.78 h-1.9 M66.5,543.60 h3.8 M397.5,543.60 h-3.8 M66.5,531.42 h1.9 M397.5,531.42 h-1.9 M66.5,519.24 h1.9 M397.5,519.24 h-1.9 M66.5,507.06 h1.9 M397.5,507.06 h-1.9 M66.5,494.88 h1.9 M397.5,494.88 h-1.9 M66.5,482.70 h1.9 M397.5,482.70 h-1.9 M66.5,470.52 h1.9 M397.5,470.52 h-1.9 M66.5,458.34 h1.9 M397.5,458.34 h-1.9 M66.5,446.16 h1.9 M397.5,446.16 h-1.9 M66.5,433.98 h1.9 M397.5,433.98 h-1.9 M66.5,421.80 h3.8 M397.5,421.80 h-3.8 M66.5,409.62 h1.9 M397.5,409.62 h-1.9 M66.5,397.44 h1.9 M397.5,397.44 h-1.9 M66.5,385.26 h1.9 M397.5,385.26 h-1.9 M66.5,373.08 h1.9 M397.5,373.08 h-1.9 M66.5,360.90 h1.9 M397.5,360.90 h-1.9 M66.5,348.72 h1.9 M397.5,348.72 h-1.9 M66.5,336.54 h1.9 M397.5,336.54 h-1.9 M66.5,324.36 h1.9 M397.5,324.36 h-1.9 M66.5,312.18 h1.9 M397.5,312.18 h-1.9 M66.5,300.00 h3.8 M397.5,300.00 h-3.8" fill="none" stroke="#000" stroke-width="1"/>
<path d="M323.7,312.1 H368.1" stroke="#000000" stroke-width="1.7" fill="none"/>
<path d="M323.7,329.1 H368.1" stroke="#0000ff" stroke-width="1.7" fill="none"/>
<path d="M323.7,346.1 H368.1" stroke="#009900" stroke-width="1.7" fill="none"/>
<path d="M323.7,363.1 H368.1" stroke="#ff0000" stroke-width="1.7" fill="none"/>
<g font-family="'Liberation Sans', sans-serif" style="will-change:transform"><text x="66.20" y="590.60" font-size="16" text-anchor="middle" fill="#000" >0</text><text x="176.53" y="590.60" font-size="16" text-anchor="middle" fill="#000" >60</text><text x="286.87" y="590.60" font-size="16" text-anchor="middle" fill="#000" >120</text><text x="397.20" y="590.60" font-size="16" text-anchor="middle" fill="#000" >180</text><text x="55.80" y="22.60" font-size="16" text-anchor="end" fill="#000" >2</text><text x="55.80" y="95.70" font-size="16" text-anchor="end" fill="#000" >0</text><text x="55.80" y="168.80" font-size="16" text-anchor="end" fill="#000" >-2</text><text x="55.80" y="241.90" font-size="16" text-anchor="end" fill="#000" >-4</text><text x="55.80" y="305.70" font-size="16" text-anchor="end" fill="#000" >4</text><text x="55.80" y="427.50" font-size="16" text-anchor="end" fill="#000" >2</text><text x="55.80" y="549.30" font-size="16" text-anchor="end" fill="#000" >0</text><text x="240.0" y="317.5" font-size="16.6" fill="#000000" xml:space="preserve">R =&#160;&#160;&#160;5 fm</text><text x="240.0" y="334.5" font-size="16.6" fill="#0000ff" xml:space="preserve">R = 10 fm</text><text x="240.0" y="351.5" font-size="16.6" fill="#009900" xml:space="preserve">R = 15 fm</text><text x="240.0" y="368.5" font-size="16.6" fill="#ff0000" xml:space="preserve">R = 20 fm</text><text x="133.1" y="536.3" font-size="19.1" fill="#000">E<tspan font-size="15.3" dy="4.9">p</tspan><tspan dy="-4.9"> = 10 MeV</tspan></text><text x="184.6" y="614.6" font-size="18.4" fill="#000">&#920;<tspan font-size="14.8" dy="5.5" dx="-0.6">c.m.</tspan><tspan dy="-5.5" dx="3.2"> (deg)</tspan></text><g transform="translate(24.8,197.0) rotate(-90)"><text x="-1.5" y="0" font-size="18.4" fill="#000">Re</text><path d="M31.70,-13.4 L27.65,-4.85 L31.70,3.7" fill="none" stroke="#000" stroke-width="1.25" stroke-linejoin="miter"/><text x="32.60" y="0" font-size="18.4" fill="#000">q&#8217;<tspan dx="0.8">|U</tspan><tspan font-size="14.1" dy="-9.2">(R)</tspan><tspan dy="9.2" dx="-0.2">|</tspan><tspan dx="0.5">q</tspan></text><path d="M100.90,-13.4 L104.75,-4.85 L100.90,3.7" fill="none" stroke="#000" stroke-width="1.25" stroke-linejoin="miter"/></g><g transform="translate(24.8,478.0) rotate(-90)"><text x="-1.5" y="0" font-size="18.4" fill="#000">Im</text><path d="M27.75,-13.4 L23.70,-4.85 L27.75,3.7" fill="none" stroke="#000" stroke-width="1.25" stroke-linejoin="miter"/><text x="28.65" y="0" font-size="18.4" fill="#000">q&#8217;<tspan dx="0.8">|U</tspan><tspan font-size="14.1" dy="-9.2">(R)</tspan><tspan dy="9.2" dx="-0.2">|</tspan><tspan dx="0.5">q</tspan></text><path d="M96.95,-13.4 L100.80,-4.85 L96.95,3.7" fill="none" stroke="#000" stroke-width="1.25" stroke-linejoin="miter"/></g></g>
</svg>
</body></html>
